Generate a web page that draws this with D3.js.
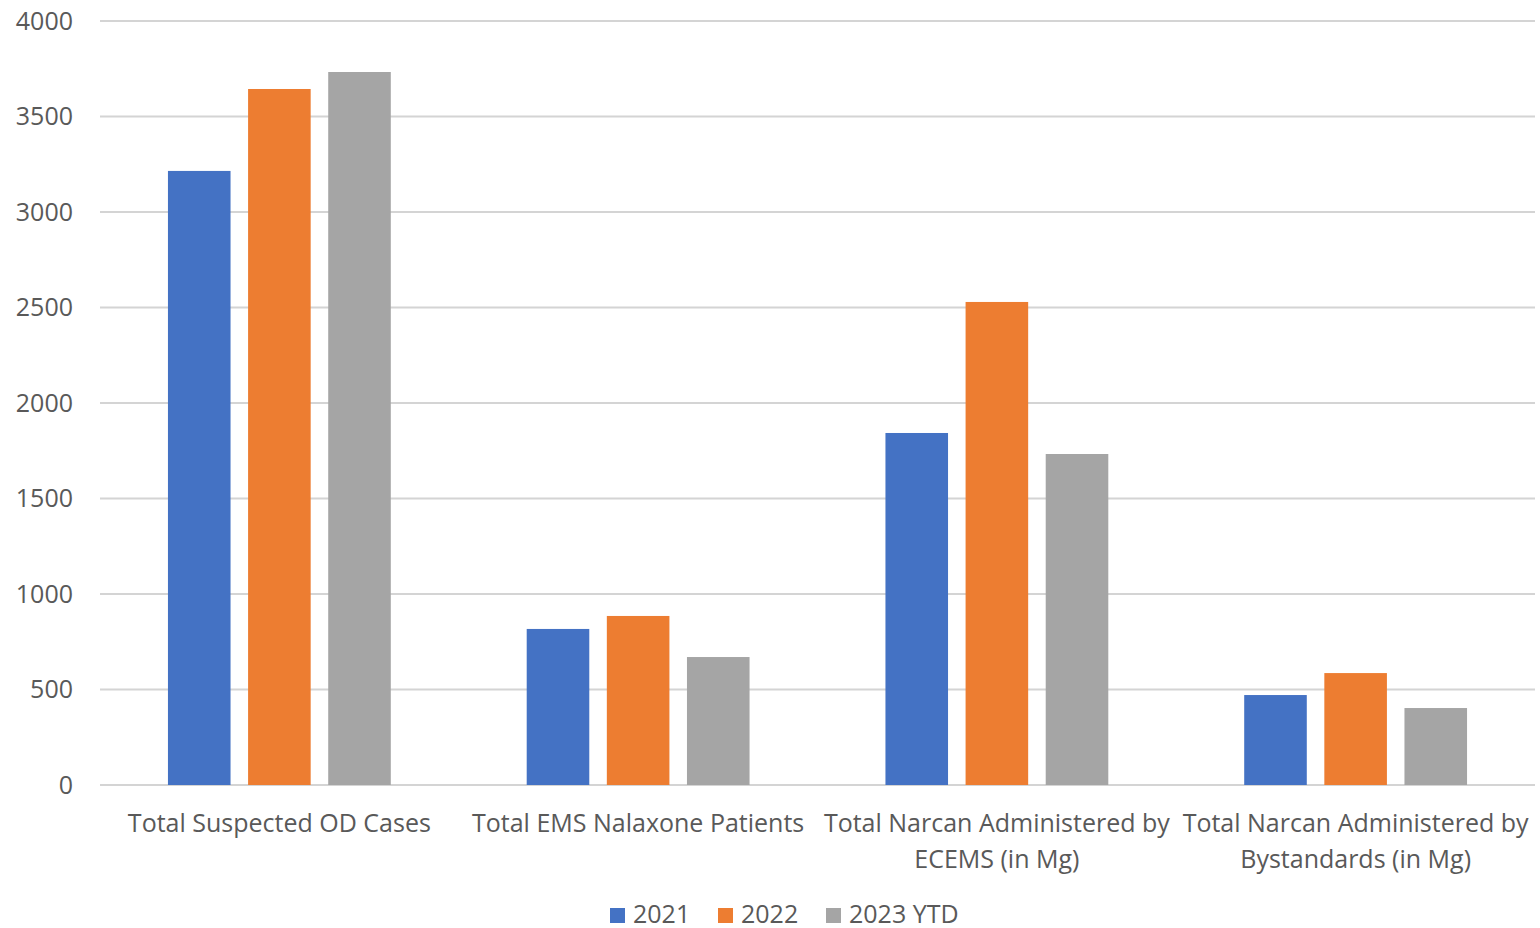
<!DOCTYPE html>
<html>
<head>
<meta charset="utf-8">
<script src="https://cdn.jsdelivr.net/npm/d3@7"></script>
<style>
  body { margin: 0; background: #fff; }
  svg { display: block; font-family: "Open Sans", "Noto Sans", sans-serif; }
</style>
</head>
<body>
<div id="chart"></div>
<script>
'use strict';

var categories = [
	["Total Suspected OD Cases"],
	["Total EMS Nalaxone Patients"],
	["Total Narcan Administered by", "ECEMS (in Mg)"],
	["Total Narcan Administered by", "Bystandards (in Mg)"]
];
var seriesNames = ["2021", "2022", "2023 YTD"];
var seriesColors = ["#4472c4", "#ed7d31", "#a5a5a5"];
var values2021 = [3215, 817, 1843, 471];
var values2022 = [3644, 885, 2529, 586];
var values2023 = [3733, 670, 1733, 403];
var yTicks = [0, 500, 1000, 1500, 2000, 2500, 3000, 3500, 4000];

var series = [values2021, values2022, values2023];

var width = 1540, height = 928,
	margin = { top: 21, right: 5, bottom: 143, left: 100 },
	fontSize = "25px",
	textColor = "#595959";

var svg = d3.select("#chart").append("svg")
	.attr("width", width)
	.attr("height", height);

var x0 = d3.scaleBand()
	.domain(d3.range(categories.length))
	.range([margin.left, width - margin.right])
	.paddingInner(0)
	.paddingOuter(0);

var x1 = d3.scaleBand()
	.domain(d3.range(series.length))
	.range([0, x0.bandwidth()])
	.paddingInner(0.219)
	.paddingOuter(0.848);

var y = d3.scaleLinear()
	.domain([0, 4000])
	.range([height - margin.bottom, margin.top]);

// gridlines
svg.append("g")
	.selectAll("line")
	.data(yTicks)
	.join("line")
	.attr("x1", margin.left)
	.attr("x2", width - margin.right)
	.attr("y1", function (d) { return y(d); })
	.attr("y2", function (d) { return y(d); })
	.style("stroke", "#d4d4d4")
	.style("stroke-width", 2);

// y labels
svg.append("g")
	.selectAll("text")
	.data(yTicks)
	.join("text")
	.attr("x", 73)
	.attr("y", function (d) { return y(d); })
	.attr("dy", "0.35em")
	.attr("text-anchor", "end")
	.style("font-size", fontSize)
	.style("fill", textColor)
	.text(function (d) { return d; });

// bars
var groups = svg.append("g")
	.selectAll("g")
	.data(series)
	.join("g")
	.style("fill", function (d, i) { return seriesColors[i]; });

groups.each(function (vals, si) {
	d3.select(this).selectAll("rect")
		.data(vals)
		.join("rect")
		.attr("x", function (d, ci) { return x0(ci) + x1(si); })
		.attr("width", x1.bandwidth())
		.attr("y", function (d) { return y(d); })
		.attr("height", function (d) { return y(0) - y(d); });
});

// category labels
var catG = svg.append("g")
	.selectAll("text")
	.data(categories)
	.join("text")
	.attr("text-anchor", "middle")
	.attr("x", function (d, i) { return x0(i) + x0.bandwidth() / 2; })
	.attr("y", 832)
	.style("font-size", fontSize)
	.style("fill", textColor);

catG.selectAll("tspan")
	.data(function (d) { return d; })
	.join("tspan")
	.attr("x", function () { return d3.select(this.parentNode).attr("x"); })
	.attr("dy", function (d, i) { return i === 0 ? 0 : 36; })
	.text(function (d) { return d; });

// legend
var legendX = [610, 718, 826];
var legend = svg.append("g")
	.selectAll("g")
	.data(seriesNames)
	.join("g")
	.attr("transform", function (d, i) { return "translate(" + legendX[i] + ",914)"; });

legend.append("rect")
	.attr("x", 0)
	.attr("y", -6)
	.attr("width", 15)
	.attr("height", 15)
	.style("fill", function (d, i) { return seriesColors[i]; });

legend.append("text")
	.attr("x", 23)
	.attr("dy", "0.35em")
	.style("font-size", fontSize)
	.style("fill", textColor)
	.text(function (d) { return d; });
</script>
</body>
</html>
